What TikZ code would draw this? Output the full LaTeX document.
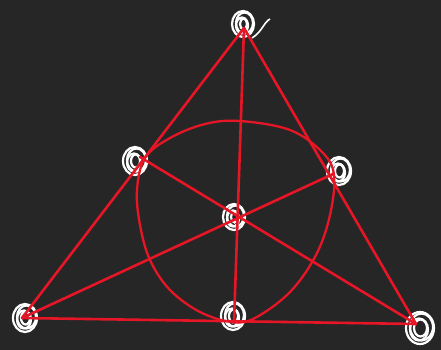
\documentclass[tikz,border=0pt]{standalone}
\begin{document}
\begin{tikzpicture}[x=1pt,y=-1pt,
  redline/.style={draw={rgb,255:red,230;green,22;blue,38},line width=2.6pt,line cap=round,line join=round},
  scrib/.style={draw=white,line width=2.2pt}]
\fill[fill={rgb,255:red,38;green,38;blue,38}] (0,0) rectangle (441,350);
\useasboundingbox (0,0) rectangle (441,350);
% points
\coordinate (T) at (244,28);
\coordinate (BL) at (22,318);
\coordinate (BR) at (416,324);
\coordinate (ML) at (140,157);
\coordinate (MR) at (333,174);
\coordinate (MB) at (234,323);
% scribbles
\foreach \x/\y/\r in {243/24/11, 25/318/12, 420/328/14, 135/161/12, 339/171/12, 234/217/11, 233/316/12}{
  \draw[scrib] (\x,\y) ellipse ({\r} and {\r+2});
  \draw[scrib] (\x+1.5,\y-1) ellipse ({\r-2.5} and {\r-0.5});
  \draw[scrib] (\x-1,\y+1.5) ellipse ({\r-5} and {\r-3});
  \draw[scrib] (\x+0.5,\y) ellipse ({\r-7.5} and {\r-5.5});
}
\draw[scrib,line width=1.6pt] (252,38) .. controls (262,32) and (264,22) .. (270,19);
% triangle
\draw[redline] (T) -- (BL) -- (BR) -- cycle;
\draw[redline] (T) -- (MB);
\draw[redline] (ML) -- (BR);
\draw[redline] (MR) -- (BL);
% wobbly circle
\draw[redline,line width=2.3pt] plot[smooth cycle,tension=0.6] coordinates {
 (240,121) (290,130) (322,152) (334,175) (330,215) (316,255) (290,292) (255,318) (232,322)
 (200,312) (170,290) (150,260) (140,225) (137,190) (145,158) (170,138) (205,124)};
\end{tikzpicture}
\end{document}
